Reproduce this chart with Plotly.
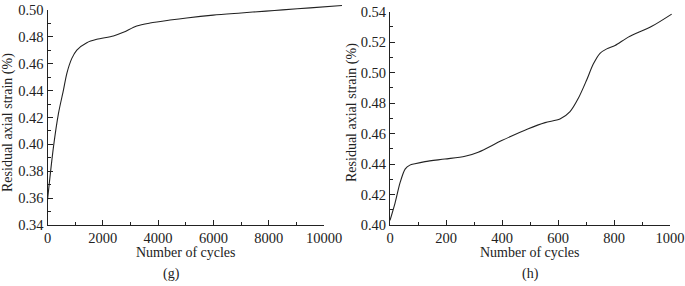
import plotly.graph_objects as go

# ---- data ----
g_cycles = [0, 217, 397, 578, 700, 880, 1061, 1422, 1783, 2383, 2744, 3227, 3708, 4430, 5032, 5993, 7000, 7900, 8500, 9500, 10650]
g_strain = [0.3586, 0.3983, 0.4231, 0.4405, 0.4529, 0.4640, 0.4702, 0.4757, 0.4782, 0.4807, 0.4834, 0.4881, 0.4903, 0.4925, 0.4941, 0.4962, 0.4978, 0.4992, 0.5001, 0.5016, 0.5033]

h_cycles = [0, 18, 36, 54, 71, 89, 125, 196, 268, 315, 399, 494, 554, 607, 643, 673, 702, 726, 750, 774, 804, 851, 935, 1006]
h_strain = [0.403, 0.4144, 0.4278, 0.4367, 0.4393, 0.4402, 0.4416, 0.4433, 0.4451, 0.4478, 0.4554, 0.4632, 0.4672, 0.4695, 0.4744, 0.4833, 0.4950, 0.5056, 0.5127, 0.5156, 0.5178, 0.5233, 0.5304, 0.5384]

g_xrange = [0, 10000]
g_yrange = [0.34, 0.50]
h_xrange = [0, 1000]
h_yrange = [0.40, 0.54]

x_title = "Number of cycles"
y_title = "Residual axial strain (%)"
labels = ["(g)", "(h)"]

# ---- layout (pixels) ----
W, H = 685, 286
FONT = "Liberation Serif"
INK = "#222222"

def px_x(p):
    return p / W

def px_y(p):
    return 1 - p / H

# left panel axis pixel box
gL, gR, gB, gT = 47.5, 324, 225, 10
# right panel axis pixel box
hL, hR, hB, hT = 390, 670, 225, 11.7
# extended (unclipped) drawing boxes
gR2, gT2 = 345, 0
hR2, hT2 = 685, 0

def ext(r, p0, p1, p2):
    # extend range r (mapped to pixels p0..p1) to pixel p2
    return r[0] + (r[1] - r[0]) * (p2 - p0) / (p1 - p0)

fig = go.Figure()
# empty traces so the visible axis frames are created
fig.add_trace(go.Scatter(x=[None], y=[None], xaxis="x", yaxis="y", mode="lines",
                         showlegend=False, hoverinfo="skip"))
fig.add_trace(go.Scatter(x=[None], y=[None], xaxis="x2", yaxis="y2", mode="lines",
                         showlegend=False, hoverinfo="skip"))
fig.add_trace(go.Scatter(x=g_cycles, y=g_strain, mode="lines", xaxis="x3", yaxis="y3",
                         line=dict(color=INK, width=1.1, shape="spline", smoothing=0.8),
                         showlegend=False, hoverinfo="skip"))
fig.add_trace(go.Scatter(x=h_cycles, y=h_strain, mode="lines", xaxis="x4", yaxis="y4",
                         line=dict(color=INK, width=1.1, shape="spline", smoothing=0.8),
                         showlegend=False, hoverinfo="skip"))

tickfont = dict(family=FONT, size=14.5, color=INK)
common = dict(showline=True, linecolor=INK, linewidth=1, ticks="inside", ticklen=5,
              tickwidth=1, tickcolor=INK, tickfont=tickfont, showgrid=False,
              zeroline=False, mirror=False, fixedrange=True, automargin=False)
hidden = dict(visible=False, fixedrange=True, automargin=False, showgrid=False, zeroline=False)

fig.update_layout(
    template="none",
    width=W, height=H, autosize=False,
    margin=dict(l=0, r=0, t=0, b=0, pad=0),
    paper_bgcolor="white", plot_bgcolor="rgba(0,0,0,0)",
    font=dict(family=FONT, size=14, color=INK),
    showlegend=False,
    xaxis=dict(domain=[px_x(gL), px_x(gR)], range=g_xrange, anchor="y",
               tick0=0, dtick=2000, tickformat="d",
               minor=dict(dtick=1000, ticks="inside", ticklen=3, tickcolor=INK), **common),
    yaxis=dict(domain=[px_y(gB), px_y(gT)], range=g_yrange, anchor="x",
               tick0=0.34, dtick=0.02, tickformat=".2f",
               minor=dict(dtick=0.01, ticks="inside", ticklen=3, tickcolor=INK), **common),
    xaxis2=dict(domain=[px_x(hL), px_x(hR)], range=h_xrange, anchor="y2",
                tick0=0, dtick=200, tickformat="d",
                minor=dict(dtick=100, ticks="inside", ticklen=3, tickcolor=INK), **common),
    yaxis2=dict(domain=[px_y(hB), px_y(hT)], range=h_yrange, anchor="x2",
                tick0=0.40, dtick=0.02, tickformat=".2f",
                minor=dict(dtick=0.01, ticks="inside", ticklen=3, tickcolor=INK), **common),
    xaxis3=dict(domain=[px_x(gL), px_x(gR2)], range=[g_xrange[0], ext(g_xrange, gL, gR, gR2)],
                anchor="y3", **hidden),
    yaxis3=dict(domain=[px_y(gB), px_y(gT2)], range=[g_yrange[0], ext(g_yrange, gB, gT, gT2)],
                anchor="x3", **hidden),
    xaxis4=dict(domain=[px_x(hL), px_x(hR2)], range=[h_xrange[0], ext(h_xrange, hL, hR, hR2)],
                anchor="y4", **hidden),
    yaxis4=dict(domain=[px_y(hB), px_y(hT2)], range=[h_yrange[0], ext(h_yrange, hB, hT, hT2)],
                anchor="x4", **hidden),
)

ann_font = dict(family=FONT, size=14, color=INK)
anns = [
    (186, 252.5, x_title, 0),
    (530, 252.5, x_title, 0),
    (171, 273.5, labels[0], 0),
    (530, 273.5, labels[1], 0),
    (8, 123, y_title, -90),
    (352, 113, y_title, -90),
]
for x, y, t, ang in anns:
    fig.add_annotation(x=px_x(x), y=px_y(y), xref="paper", yref="paper", text=t,
                       showarrow=False, textangle=ang, font=ann_font,
                       xanchor="center", yanchor="middle")

fig.write_html("out.html", config={"displayModeBar": False},
               post_script="document.body.style.margin='0';document.body.style.overflow='hidden';")
